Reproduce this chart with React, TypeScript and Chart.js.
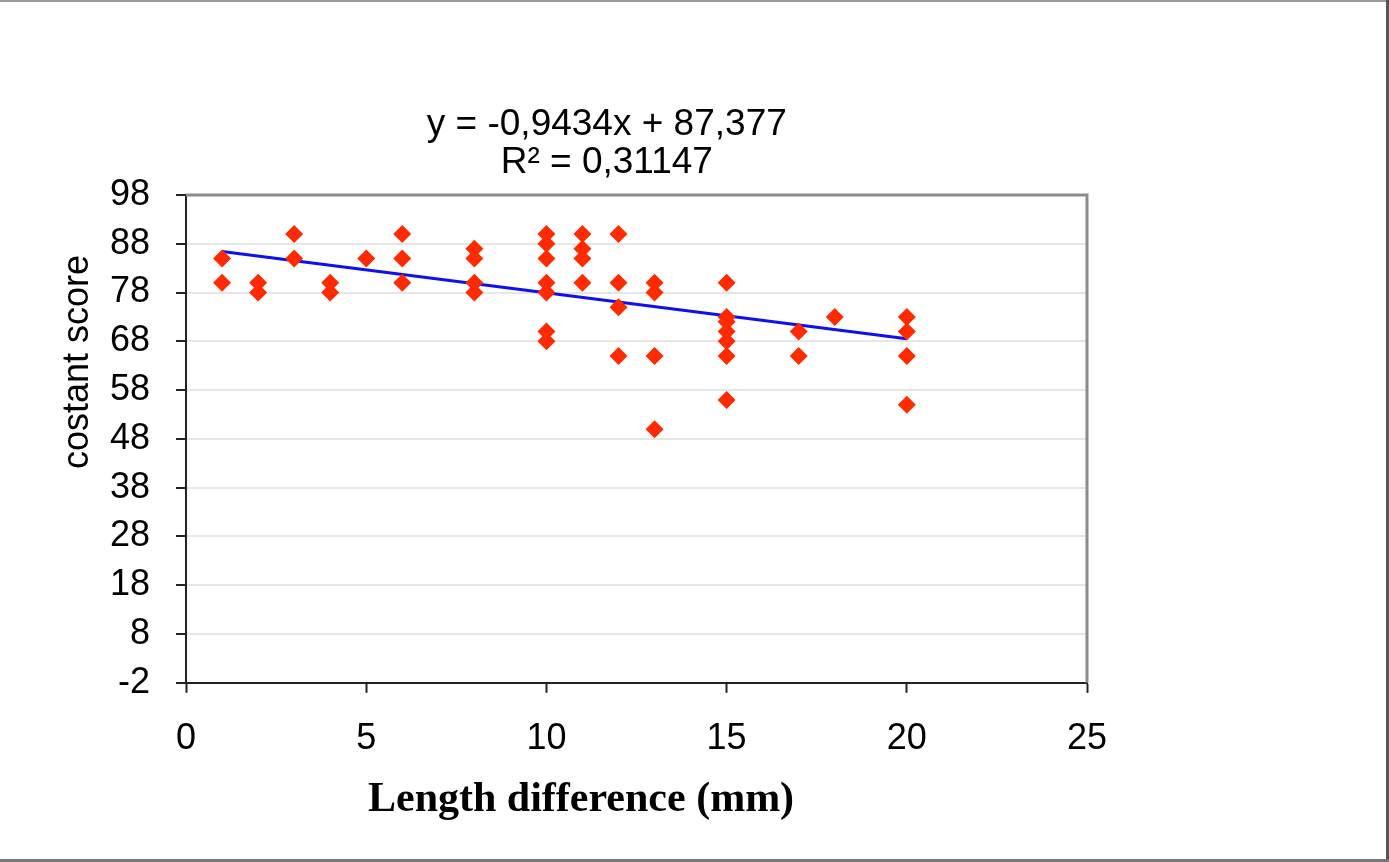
import React, { useEffect, useRef } from "react";
import { Chart, registerables } from "chart.js";

Chart.register(...registerables);

const pointX = [
  1, 1, 2, 2, 3, 3, 4, 4, 5, 6, 6, 6, 8, 8, 8, 8,
  10, 10, 10, 10, 10, 10, 10, 11, 11, 11, 11, 12, 12, 12, 12,
  13, 13, 13, 13, 15, 15, 15, 15, 15, 15, 15, 17, 17, 18, 20, 20, 20, 20,
];
const pointY = [
  85, 80, 80, 78, 90, 85, 80, 78, 85, 90, 85, 80, 87, 85, 80, 78,
  90, 88, 85, 80, 78, 70, 68, 90, 87, 85, 80, 90, 80, 75, 65,
  80, 78, 65, 50, 80, 73, 72, 70, 68, 65, 56, 70, 65, 73, 73, 70, 65, 55,
];
const trendX = [1, 20];
const trendY = [86.4336, 68.509];
const yTicks = [-2, 8, 18, 28, 38, 48, 58, 68, 78, 88, 98];
const xTicks = [0, 5, 10, 15, 20, 25];
const equationLines = ["y = -0,9434x + 87,377", "R² = 0,31147"];
const yTitle = "costant score";
const xTitle = "Length difference (mm)";

const SANS = "'Liberation Sans', Arial, sans-serif";
const SERIF = "'Liberation Serif', 'Times New Roman', serif";

const decorPlugin = {
  id: "decor",
  afterDraw(chart: any) {
    const { ctx, chartArea, width, height } = chart;
    ctx.save();
    // plot frame top/right
    ctx.strokeStyle = "#8c8c8c";
    ctx.lineWidth = 3;
    ctx.beginPath();
    ctx.moveTo(chartArea.left, chartArea.top);
    ctx.lineTo(chartArea.right, chartArea.top);
    ctx.lineTo(chartArea.right, chartArea.bottom);
    ctx.stroke();
    // texts
    ctx.fillStyle = "#000";
    ctx.textAlign = "center";
    ctx.textBaseline = "middle";
    ctx.font = `37px ${SANS}`;
    const cx = chartArea.left + (chartArea.right - chartArea.left) * 0.467;
    ctx.fillText(equationLines[0], cx, chartArea.top - 70);
    ctx.fillText(equationLines[1], cx, chartArea.top - 32);
    ctx.save();
    ctx.translate(chartArea.left - 108, chartArea.top + 167);
    ctx.rotate(-Math.PI / 2);
    ctx.font = `36px ${SANS}`;
    ctx.fillText(yTitle, 0, 0);
    ctx.restore();
    ctx.font = `bold 42px ${SERIF}`;
    ctx.fillText(xTitle, chartArea.left + 395, chartArea.bottom + 117);
    // outer frame
    ctx.strokeStyle = "#9a9a9a";
    ctx.lineWidth = 2;
    ctx.beginPath();
    ctx.moveTo(0, 1);
    ctx.lineTo(width, 1);
    ctx.stroke();
    ctx.strokeStyle = "#555";
    ctx.lineWidth = 3;
    ctx.beginPath();
    ctx.moveTo(width - 1.5, 0);
    ctx.lineTo(width - 1.5, height);
    ctx.stroke();
    ctx.strokeStyle = "#777";
    ctx.beginPath();
    ctx.moveTo(0, height - 1.5);
    ctx.lineTo(width, height - 1.5);
    ctx.stroke();
    ctx.restore();
  },
};

export default function App() {
  const ref = useRef<HTMLCanvasElement | null>(null);

  useEffect(() => {
    document.body.style.margin = "0";
    if (!ref.current) return;
    const scatter = pointX.map((x, i) => ({ x, y: pointY[i] }));
    const trend = trendX.map((x, i) => ({ x, y: trendY[i] }));
    const chart = new Chart(ref.current, {
      type: "scatter",
      data: {
        datasets: [
          {
            type: "line",
            data: trend,
            borderColor: "#1010ee",
            borderWidth: 3,
            pointRadius: 0,
            fill: false,
            order: 2,
          } as any,
          {
            data: scatter,
            pointStyle: "rectRot",
            pointRadius: 9,
            pointHoverRadius: 9,
            backgroundColor: "#ff2a00",
            borderColor: "#ff2a00",
            borderWidth: 0,
            order: 1,
          },
        ],
      },
      plugins: [decorPlugin],
      options: {
        animation: false,
        responsive: false,
        devicePixelRatio: 1,
        layout: { padding: { left: 84, right: 302, top: 195, bottom: 76 } },
        plugins: {
          legend: { display: false },
          tooltip: { enabled: false },
          title: { display: false },
        },
        scales: {
          x: {
            type: "linear",
            min: 0,
            max: 25,
            afterBuildTicks: (axis: any) => {
              axis.ticks = xTicks.map((v) => ({ value: v }));
            },
            grid: {
              drawOnChartArea: false,
              tickLength: 10,
              tickColor: "#222",
              tickWidth: 2,
            },
            border: { color: "#222", width: 2 },
            ticks: {
              color: "#000",
              padding: 25,
              font: { family: SANS, size: 36 },
              maxRotation: 0,
            },
          },
          y: {
            type: "linear",
            min: -2,
            max: 98,
            afterBuildTicks: (axis: any) => {
              axis.ticks = yTicks.map((v) => ({ value: v }));
            },
            grid: {
              color: "#e6e6e6",
              lineWidth: 2,
              tickLength: 10,
              tickColor: "#222",
              tickWidth: 2,
            },
            border: { color: "#222", width: 2 },
            ticks: {
              color: "#000",
              padding: 26,
              font: { family: SANS, size: 36 },
            },
          },
        },
      } as any,
    });
    return () => chart.destroy();
  }, []);

  return (
    <div style={{ position: "absolute", left: 0, top: 0, width: 1389, height: 862, background: "#fff" }}>
      <canvas ref={ref} width={1389} height={862} style={{ display: "block" }} />
    </div>
  );
}
